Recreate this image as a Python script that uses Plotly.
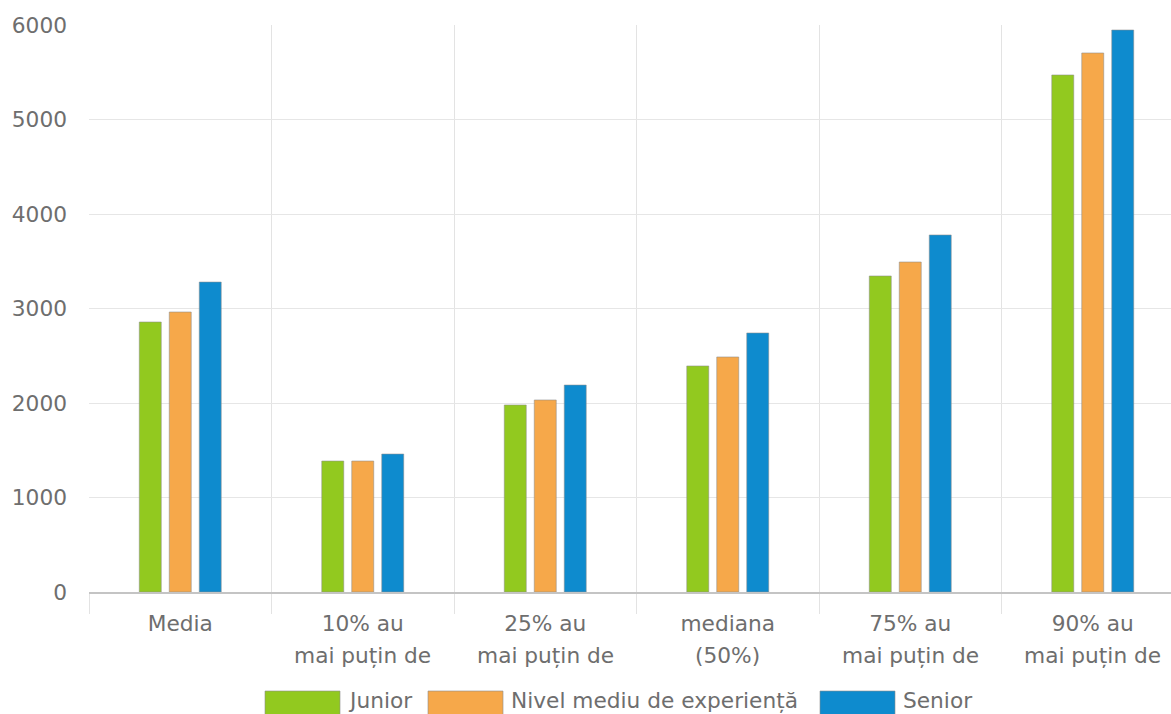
import plotly.graph_objects as go

categories = ["Media", "10% au<br>mai puțin de", "25% au<br>mai puțin de",
              "mediana<br>(50%)", "75% au<br>mai puțin de", "90% au<br>mai puțin de"]
series_names = ["Junior", "Nivel mediu de experiență", "Senior"]
junior = [2857, 1386, 1979, 2392, 3344, 5471]
mediu = [2963, 1386, 2032, 2487, 3492, 5704]
senior = [3280, 1460, 2190, 2741, 3778, 5947]
colors = ["#92C91F", "#F6A84A", "#0E8BCE"]
y_ticks = [0, 1000, 2000, 3000, 4000, 5000, 6000]

W, H = 1171, 714
ML, MT, MB = 89, 25, 122
plot_w = W - ML
plot_h = H - MT - MB
cat_px = 182.5
x_max = -0.5 + plot_w / cat_px
FS = 21.7

first_lines = [c.split("<br>")[0] for c in categories]
second_lines = [c.split("<br>")[1] if "<br>" in c else "" for c in categories]

fig = go.Figure()
for name, vals, col in zip(series_names, [junior, mediu, senior], colors):
    fig.add_trace(go.Bar(
        x=categories, y=vals, name=name,
        marker=dict(color=col, line=dict(color="rgba(140,140,140,0.55)", width=1)),
        showlegend=False,
    ))

font_col = "#6e6e6e"
fig.update_layout(
    width=W, height=H,
    margin=dict(l=ML, r=0, t=MT, b=MB, pad=0, autoexpand=False),
    paper_bgcolor="white", plot_bgcolor="white",
    barmode="group", bargap=0.507, bargroupgap=0.267,
    font=dict(family="DejaVu Sans", size=FS, color=font_col),
    xaxis=dict(
        type="category", tickmode="array", tickvals=categories, ticktext=first_lines,
        range=[-0.5, x_max], tickson="boundaries", ticks="outside", ticklen=20,
        tickcolor="#e3e3e3", tickwidth=1, automargin=False,
        showgrid=True, gridcolor="#e3e3e3", gridwidth=1,
        showline=True, linecolor="#c4c4c4", linewidth=1.5,
        tickfont=dict(size=FS, color=font_col), ticklabelstandoff=11,
    ),
    yaxis=dict(
        range=[0, 6000], tickvals=y_ticks, ticks="", automargin=False,
        showgrid=True, gridcolor="#e6e6e6", gridwidth=1, zeroline=False,
        tickfont=dict(size=FS, color=font_col), ticklabelstandoff=21,
    ),
)

def px_to_paper_x(px):
    return (px - ML) / plot_w

def py_to_paper_y(py):
    return (H - MB - py) / plot_h

# second line of category labels (wider line spacing than plotly's default)
for cat, line2 in zip(categories, second_lines):
    if line2:
        fig.add_annotation(xref="x", yref="paper", x=cat, y=py_to_paper_y(655),
                           text=line2, showarrow=False, xanchor="center", yanchor="middle",
                           font=dict(size=FS, color=font_col))

# manual legend (wide swatches)
swatch_x = [265, 428, 820]
for name, col, sx in zip(series_names, colors, swatch_x):
    fig.add_shape(type="rect", xref="paper", yref="paper",
                  x0=px_to_paper_x(sx), x1=px_to_paper_x(sx + 75),
                  y0=py_to_paper_y(716), y1=py_to_paper_y(691),
                  fillcolor=col, line=dict(color="rgba(140,140,140,0.6)", width=1))
    fig.add_annotation(xref="paper", yref="paper",
                       x=px_to_paper_x(sx + 81), y=py_to_paper_y(700),
                       text=name, showarrow=False, xanchor="left", yanchor="middle",
                       font=dict(size=FS, color=font_col))

fig.write_html("out.html", post_script="document.body.style.margin='0';",
               config={"displayModeBar": False})
